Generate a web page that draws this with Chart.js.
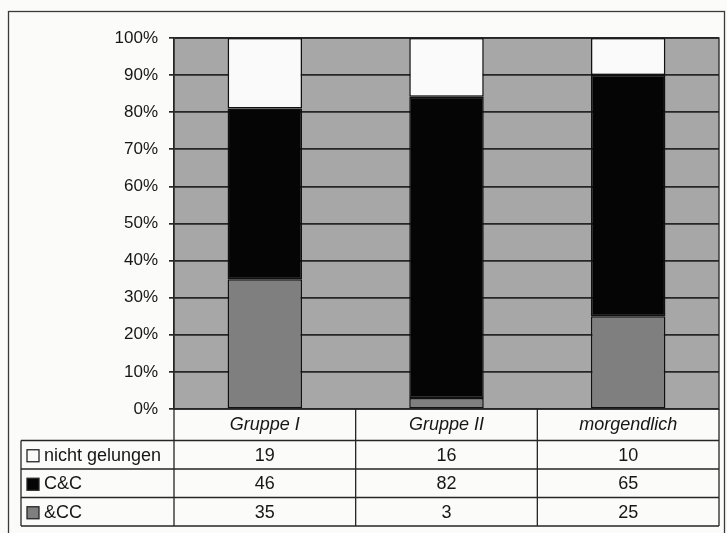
<!DOCTYPE html>
<html>
<head>
<meta charset="UTF-8">
<script src="https://cdn.jsdelivr.net/npm/chart.js@4.4.7/dist/chart.umd.min.js"></script>
<style>
*{margin:0;padding:0;box-sizing:border-box}
html,body{width:727px;height:533px;background:#fbfbfa;overflow:hidden}
#wrap{position:relative;width:727px;height:533px}
</style>
</head>
<body>
<div id="wrap"><canvas id="ch" width="727" height="533"></canvas></div>
<script>
var categories = ['Gruppe I', 'Gruppe II', 'morgendlich'];
var nichtGelungen = [19, 16, 10];
var cc = [46, 82, 65];
var ampCC = [35, 3, 25];
var yTicks = [0, 10, 20, 30, 40, 50, 60, 70, 80, 90, 100];

var FONT = '"Liberation Sans", Arial, sans-serif';
var LINE = '#262626';

// 100% stacked: each column scaled to its own total
function pct(arr) {
  return arr.map(function(v, i) {
    var tot = nichtGelungen[i] + cc[i] + ampCC[i];
    return v / tot * 100;
  });
}

var series = [
  { label: '&CC', raw: ampCC, color: '#7f7f7f' },
  { label: 'C&C', raw: cc, color: '#050505' },
  { label: 'nicht gelungen', raw: nichtGelungen, color: '#fafafa' }
];

var plotBg = {
  id: 'plotBg',
  beforeDraw: function(chart) {
    var a = chart.chartArea, c = chart.ctx;
    c.save();
    c.fillStyle = '#a7a7a7';
    c.fillRect(a.left, a.top, a.right - a.left, a.bottom - a.top);
    c.restore();
  }
};

var table = {
  id: 'table',
  afterDraw: function(chart) {
    var c = chart.ctx, a = chart.chartArea, xs = chart.scales.x;
    var headTop = a.bottom, rowTop = 440.5, rowH = 28.5, tblLeft = 21;
    var rows = [series[2], series[1], series[0]];
    c.save();
    c.strokeStyle = LINE;
    c.lineWidth = 1.3;
    // plot frame
    c.strokeRect(a.left, a.top, a.right - a.left, a.bottom - a.top);
    // outer frame
    c.strokeStyle = '#3a3a3a';
    c.strokeRect(8.5, 11.5, 716, 530);
    c.strokeStyle = LINE;
    c.beginPath();
    // header verticals + column separators
    var half = (xs.getPixelForValue(1) - xs.getPixelForValue(0)) / 2;
    var edges = [a.left];
    for (var i = 0; i < categories.length; i++) {
      edges.push(xs.getPixelForValue(i) + half);
    }
    edges.forEach(function(x) {
      c.moveTo(x, headTop);
      c.lineTo(x, rowTop + rowH * rows.length);
    });
    c.moveTo(tblLeft, rowTop);
    c.lineTo(tblLeft, rowTop + rowH * rows.length);
    for (var r = 0; r <= rows.length; r++) {
      c.moveTo(tblLeft, rowTop + r * rowH);
      c.lineTo(a.right, rowTop + r * rowH);
    }
    c.stroke();

    c.font = '18px ' + FONT;
    c.textBaseline = 'middle';
    rows.forEach(function(s, r) {
      var cy = rowTop + r * rowH + rowH / 2 + 1;
      // legend key
      c.fillStyle = s.color;
      c.fillRect(27, cy - 6, 12, 12);
      c.strokeStyle = LINE;
      c.lineWidth = 1.3;
      c.strokeRect(27, cy - 6, 12, 12);
      c.fillStyle = '#161616';
      c.textAlign = 'left';
      c.fillText(s.label, 44, cy);
      c.textAlign = 'center';
      s.raw.forEach(function(v, i) {
        c.fillText(String(v), xs.getPixelForValue(i), cy);
      });
    });
    c.restore();
  }
};

new Chart(document.getElementById('ch'), {
  type: 'bar',
  data: {
    labels: categories,
    datasets: series.map(function(s) {
      return {
        label: s.label,
        data: pct(s.raw),
        backgroundColor: s.color,
        borderColor: '#111',
        borderWidth: 1.5,
        borderSkipped: false,
        categoryPercentage: 1,
        barPercentage: 0.41
      };
    })
  },
  options: {
    responsive: false,
    animation: false,
    devicePixelRatio: 1,
    layout: { padding: { left: 0, right: 8, top: 38, bottom: 92 } },
    plugins: { legend: { display: false }, tooltip: { enabled: false } },
    scales: {
      x: {
        stacked: true,
        grid: { display: false, drawTicks: false },
        border: { display: false },
        ticks: { color: '#161616', padding: 5, font: { family: FONT, size: 18, style: 'italic' } },
        afterFit: function(s) { s.height = 32; }
      },
      y: {
        stacked: true,
        min: 0,
        max: 100,
        afterBuildTicks: function(s) { s.ticks = yTicks.map(function(v) { return { value: v }; }); },
        ticks: {
          color: '#161616',
          padding: 11,
          font: { family: FONT, size: 17 },
          callback: function(v) { return v + '%'; }
        },
        grid: { color: LINE, lineWidth: 1.7, tickLength: 5, drawOnChartArea: true },
        border: { display: true, color: LINE, width: 1.3 },
        afterFit: function(s) { s.width = 174; }
      }
    }
  },
  plugins: [plotBg, table]
});
</script>
</body>
</html>
